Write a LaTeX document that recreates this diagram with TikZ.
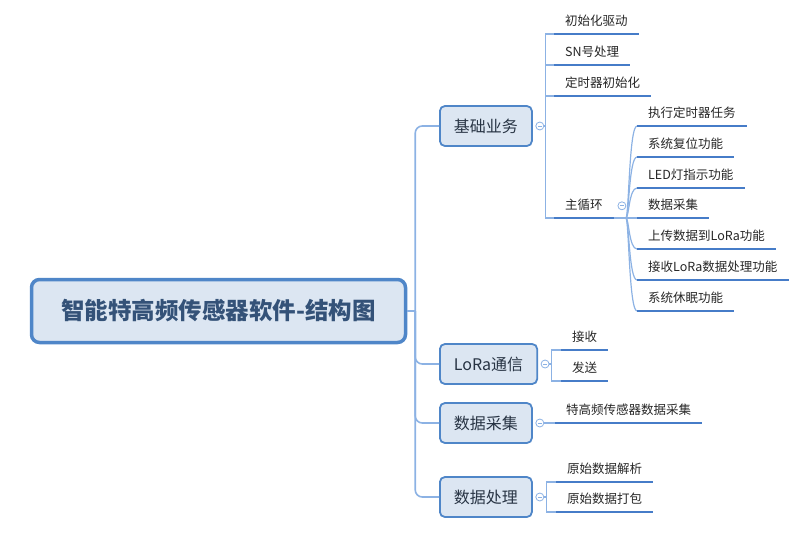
\documentclass[tikz,border=0pt]{standalone}
\usepackage{fontspec}
\setmainfont{Noto Sans CJK SC}
\definecolor{nodefill}{RGB}{220,230,242}
\definecolor{nodeborder}{RGB}{79,134,200}
\definecolor{linkblue}{RGB}{140,178,228}
\definecolor{ulblue}{RGB}{70,124,200}
\definecolor{roottext}{RGB}{52,82,120}
\definecolor{topictext}{RGB}{40,52,68}
\tikzset{
  rootbox/.style={draw=nodeborder, fill=nodefill, line width=3.5pt, rounded corners=8pt,
    minimum width=374pt, minimum height=63pt, text=roottext,
    font=\fontsize{23.5}{27}\selectfont\bfseries},
  topicbox/.style={draw=nodeborder, fill=nodefill, line width=1.8pt, rounded corners=5pt,
    anchor=west, minimum height=40pt, inner xsep=14pt, text=topictext,
    font=\fontsize{16}{19}\selectfont},
  leaf/.style={anchor=south west, inner xsep=11pt, inner ysep=5pt, text height=11pt,
    text depth=3pt, text=black!85, font=\fontsize{12.5}{14}\selectfont},
  uline/.style={draw=ulblue, line width=2.5pt},
  trunk/.style={draw=linkblue, line width=1.6pt, rounded corners=7pt},
  link/.style={draw=linkblue, line width=1.2pt},
  fold/.style={circle, draw=linkblue, fill=white, line width=0.8pt, minimum size=8pt, inner sep=0pt,
    path picture={\draw[linkblue, line width=0.8pt]
      ([xshift=-2pt]path picture bounding box.center) -- ([xshift=2pt]path picture bounding box.center);}},
}
\begin{document}
\begin{tikzpicture}[x=1pt, y=-1pt]
\useasboundingbox (0,0) rectangle (810,542);
% root and main topics
\node[rootbox] (root) at (218.5,311) {智能特高频传感器软件-结构图};
\node[topicbox] (b1) at (439,126) {基础业务};
\node[topicbox] (b2) at (439,364) {LoRa通信};
\node[topicbox] (b3) at (439,423) {数据采集};
\node[topicbox] (b4) at (439,497) {数据处理};
\draw[link, line width=1.6pt] (root.east) -- ++(8,0) coordinate (hub);
\foreach \t in {b1,b2,b3,b4}
  \draw[trunk] (hub) |- (\t.west);
% fold buttons
\node[fold] (f1) at ([xshift=7pt]b1.east) {};
\node[fold] (f2) at ([xshift=7pt]b2.east) {};
\node[fold] (f3) at ([xshift=7pt]b3.east) {};
\node[fold] (f4) at ([xshift=7pt]b4.east) {};
% leaves
\node[leaf] (ja) at (554,34) {初始化驱动};
\node[leaf] (jb) at (554,65) {SN号处理};
\node[leaf] (jc) at (554,96) {定时器初始化};
\node[leaf] (jd) at (554,218) {主循环};
\node[leaf] (ma) at (637,126) {执行定时器任务};
\node[leaf] (mb) at (637,157) {系统复位功能};
\node[leaf] (mc) at (637,188) {LED灯指示功能};
\node[leaf] (md) at (637,218) {数据采集};
\node[leaf] (me) at (637,249) {上传数据到LoRa功能};
\node[leaf] (mf) at (637,280) {接收LoRa数据处理功能};
\node[leaf] (mg) at (637,311) {系统休眠功能};
\node[leaf] (la) at (561,350) {接收};
\node[leaf] (lb) at (561,381) {发送};
\node[leaf] (ka) at (555,423) {特高频传感器数据采集};
\node[leaf] (pa) at (556,482) {原始数据解析};
\node[leaf] (pb) at (556,512) {原始数据打包};
\node[fold] (f5) at ([xshift=8pt]jd.east) {};
% branches
\foreach \n in {ja,jb,jc,jd}
  \draw[link] (f1.east) -- ++(1,0) |- (\n.south west);
\foreach \n in {la,lb}
  \draw[link] (f2.east) -- ++(2,0) |- (\n.south west);
\draw[link] (f3.east) -- (ka.south west);
\foreach \n in {pa,pb}
  \draw[link] (f4.east) -- ++(2,0) |- (\n.south west);
\draw[link] (jd.south east) -- ++(12,0) coordinate (mhub);
\foreach \n in {ma,mb,mc,md,me,mf,mg}
  \draw[link] (mhub) .. controls +(3,0) and +(-8,0) .. (\n.south west);
\foreach \n in {ja,jb,jc,jd,ma,mb,mc,md,me,mf,mg,la,lb,ka,pa,pb}
  \draw[uline] (\n.south west) -- (\n.south east);
\end{tikzpicture}
\end{document}
